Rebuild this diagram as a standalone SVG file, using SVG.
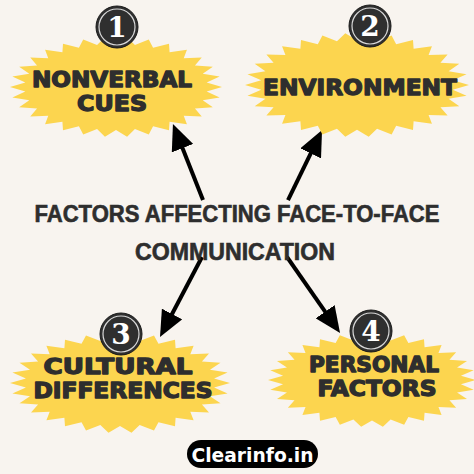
<svg xmlns="http://www.w3.org/2000/svg" xmlns:xlink="http://www.w3.org/1999/xlink" width="474" height="474" viewBox="0 0 474 474">
<style>
.bg{fill:#f8f4ef}
.burst{fill:#fcd54f}
.lbl{font-family:"DejaVu Sans","Liberation Sans",sans-serif;font-weight:bold;fill:#2e2e2e;text-anchor:middle;stroke:#2e2e2e;stroke-width:1.3;stroke-linejoin:round}
.ttl{font-family:"Liberation Sans","DejaVu Sans",sans-serif;font-weight:bold;fill:#2e2e2e;text-anchor:middle;stroke:#2e2e2e;stroke-width:0.6}
.badge{fill:#2f2f2f;stroke:#1a1a1a;stroke-width:1}
.ring{fill:none;stroke:#d8d8d8;stroke-width:1.2}
.num{font-family:"DejaVu Serif","Liberation Serif",serif;font-weight:bold;font-size:28px;fill:#fff;text-anchor:middle}
.conn{stroke:#000;stroke-width:4;fill:none;marker-end:url(#head)}
</style>
<defs>
<polygon id="star" points="100,0 85.53,8.99 97.81,20.79 81.79,26.57 91.35,40.67 74.48,43 80.9,58.78 63.91,57.54 66.91,74.31 50.55,69.57 50,86.6 34.98,78.56 30.9,95.11 17.88,84.12 10.45,99.45 0,86 -10.45,99.45 -17.88,84.12 -30.9,95.11 -34.98,78.56 -50,86.6 -50.55,69.57 -66.91,74.31 -63.91,57.54 -80.9,58.78 -74.48,43 -91.35,40.67 -81.79,26.57 -97.81,20.79 -85.53,8.99 -100,0 -85.53,-8.99 -97.81,-20.79 -81.79,-26.57 -91.35,-40.67 -74.48,-43 -80.9,-58.78 -63.91,-57.54 -66.91,-74.31 -50.55,-69.57 -50,-86.6 -34.98,-78.56 -30.9,-95.11 -17.88,-84.12 -10.45,-99.45 0,-86 10.45,-99.45 17.88,-84.12 30.9,-95.11 34.98,-78.56 50,-86.6 50.55,-69.57 66.91,-74.31 63.91,-57.54 80.9,-58.78 74.48,-43 91.35,-40.67 81.79,-26.57 97.81,-20.79 85.53,-8.99"/>
<marker id="head" markerUnits="userSpaceOnUse" markerWidth="26" markerHeight="23" refX="6" refY="11.5" orient="auto" viewBox="0 0 26 23">
<path d="M0,0 L26,11.5 L0,23 Z" fill="#000"/>
</marker>
</defs>
<rect class="bg" x="0" y="0" width="474" height="474"/>

<g id="connectors">
<path class="conn" d="M203,200 L180.3,142.6"/>
<path class="conn" d="M288,200 L313.3,148"/>
<path class="conn" d="M202,257 L169.3,319.3"/>
<path class="conn" d="M287,257 L328.6,316.6"/>
</g>

<g id="title">
<text class="ttl" x="237" y="222" font-size="23" textLength="405" lengthAdjust="spacingAndGlyphs">FACTORS AFFECTING FACE-TO-FACE</text>
<text class="ttl" x="235" y="260" font-size="23" textLength="200" lengthAdjust="spacingAndGlyphs">COMMUNICATION</text>
</g>

<g id="node1">
<use href="#star" class="burst" transform="translate(116,87) scale(1.06,0.5)"/>
<text class="lbl" font-size="20.5"><tspan x="112" y="86.5" textLength="160" lengthAdjust="spacingAndGlyphs">NONVERBAL</tspan><tspan x="112" y="111" textLength="70" lengthAdjust="spacingAndGlyphs">CUES</tspan></text>
<circle class="badge" cx="117" cy="27" r="21"/>
<circle class="ring" cx="117" cy="27" r="18"/>
<text class="num" x="117" y="37">1</text>
</g>

<g id="node2">
<use href="#star" class="burst" transform="translate(357,85) scale(1.12,0.52)"/>
<text class="lbl" x="360" y="95" font-size="22" textLength="194" lengthAdjust="spacingAndGlyphs">ENVIRONMENT</text>
<circle class="badge" cx="370" cy="26" r="21"/>
<circle class="ring" cx="370" cy="26" r="18"/>
<text class="num" x="370" y="36">2</text>
</g>

<g id="node3">
<use href="#star" class="burst" transform="translate(120,383) scale(1.1,0.5)"/>
<text class="lbl" font-size="20.5"><tspan x="118" y="374" textLength="149" lengthAdjust="spacingAndGlyphs">CULTURAL</tspan><tspan x="123" y="398" textLength="179" lengthAdjust="spacingAndGlyphs">DIFFERENCES</tspan></text>
<circle class="badge" cx="121" cy="334" r="21"/>
<circle class="ring" cx="121" cy="334" r="18"/>
<text class="num" x="121" y="344">3</text>
</g>

<g id="node4">
<use href="#star" class="burst" transform="translate(372,380) scale(1.04,0.47)"/>
<text class="lbl" font-size="20.5"><tspan x="374" y="372" textLength="130" lengthAdjust="spacingAndGlyphs">PERSONAL</tspan><tspan x="377" y="396" textLength="119" lengthAdjust="spacingAndGlyphs">FACTORS</tspan></text>
<circle class="badge" cx="371" cy="331" r="21"/>
<circle class="ring" cx="371" cy="331" r="18"/>
<text class="num" x="371" y="341">4</text>
</g>

<g id="footer">
<rect x="187" y="440" width="131" height="28" rx="14" fill="#000"/>
<text x="252.5" y="462" font-family="'DejaVu Sans','Liberation Sans',sans-serif" font-weight="bold" font-size="19" fill="#fff" text-anchor="middle" textLength="122" lengthAdjust="spacingAndGlyphs">Clearinfo.in</text>
</g>
</svg>
